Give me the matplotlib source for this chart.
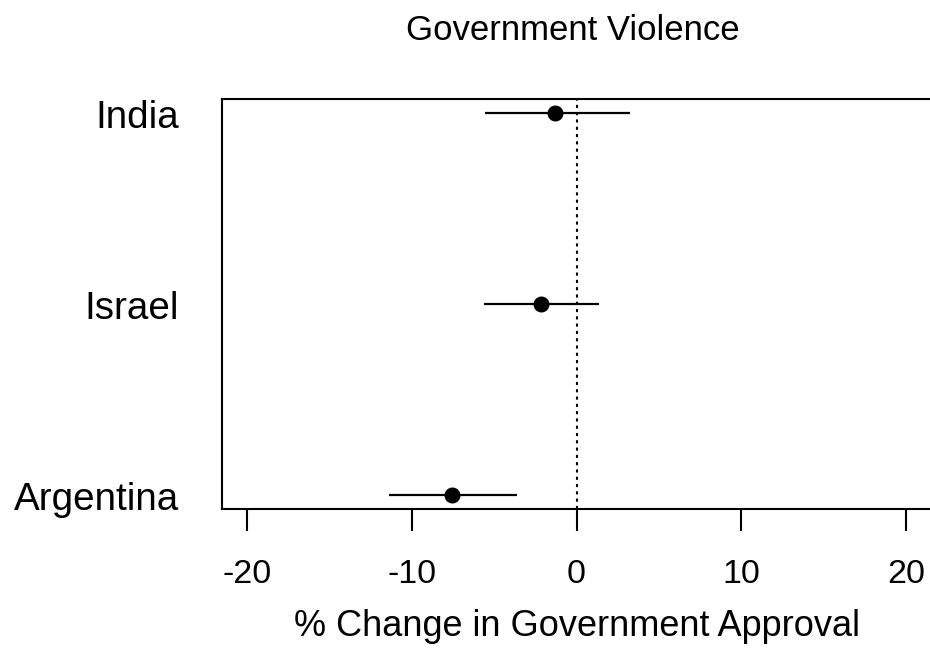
import numpy as np
import matplotlib.pyplot as plt

plt.rcParams['font.family'] = ['Liberation Sans', 'DejaVu Sans']

# --- data ---
countries = ['India', 'Israel', 'Argentina']
estimate = [-1.28, -2.15, -7.54]
lower = [-5.53, -5.62, -11.37]
upper = [3.22, 1.38, -3.59]
ypos = [3, 2, 1]
xticks = [-20, -10, 0, 10, 20]

fig = plt.figure(figsize=(9.3, 6.48), dpi=100)
ax = fig.add_axes([0.2387, 0.2145, 0.7624, 0.6325])

# error bars and points
ax.hlines(ypos, lower, upper, color='black', linewidth=1.6)
ax.plot(estimate, ypos, 'o', color='black', markersize=10.5)
ax.axvline(0, color='black', linestyle=(0, (1.5, 2)), linewidth=1.5)

ax.set_xlim(-21.5, 21.5)
ax.set_ylim(0.927, 3.073)
ax.set_xticks(xticks)
ax.set_xticklabels([str(t) for t in xticks], fontsize=24.5)
ax.tick_params(axis='x', length=16, width=1.5, pad=20)
ax.set_yticks([])
for c, y in zip(countries, ypos):
    ax.text(-24.1, y - 0.025, c, ha='right', va='center', fontsize=27.8)

for s in ax.spines.values():
    s.set_linewidth(1.5)

ax.set_xlabel('% Change in Government Approval', fontsize=26, labelpad=14)
fig.text(0.616, 0.953, 'Government Violence', ha='center', va='center', fontsize=25)

fig.savefig('out.png', dpi=100)
